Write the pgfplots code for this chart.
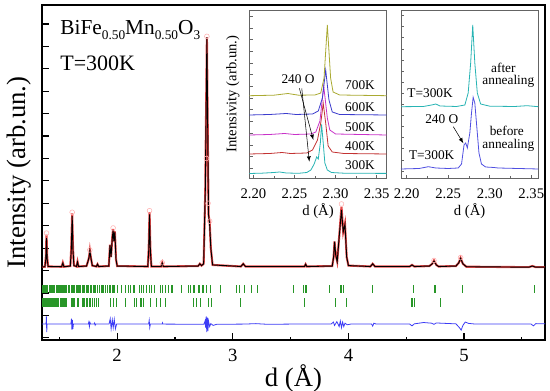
\documentclass[border=0pt]{standalone}
\usepackage{fontspec}
\setmainfont{Liberation Serif}
\usepackage{pgfplots}
\pgfplotsset{compat=1.18}
\definecolor{obsred}{RGB}{225,40,40}
\definecolor{obspink}{RGB}{255,175,175}
\definecolor{tickgreen}{RGB}{40,150,40}
\definecolor{diffblue}{RGB}{60,60,245}
\definecolor{cteal}{RGB}{40,180,180}
\definecolor{cred}{RGB}{195,50,50}
\definecolor{cmag}{RGB}{200,50,200}
\definecolor{cblue}{RGB}{60,60,205}
\definecolor{colive}{RGB}{170,170,50}
\definecolor{cbefore}{RGB}{80,80,225}
\definecolor{frame}{RGB}{100,100,100}
\begin{document}
\begin{tikzpicture}
\begin{axis}[name=main, at={(31.5pt,38.25pt)}, anchor=south west,
  scale only axis, width=377.25pt, height=251.25pt,
  xmin=1.35, xmax=5.70, ymin=-0.1, ymax=14.85,
  xtick={2,3,4,5}, xticklabels={2,3,4,5}, minor xtick={1.5,2.5,3.5,4.5,5.5},
  ytick={0,...,14}, yticklabels={},
  tick align=inside, xtick pos=bottom, ytick pos=left,
  major tick length=5pt, minor tick length=2.5pt,
  axis line style={line width=1.1pt},
  every tick/.style={black, line width=0.9pt},
  tick label style={font=\fontsize{14}{14}\selectfont},
  xticklabel style={yshift=-3.5pt},
  xlabel={d (Å)}, ylabel={Intensity (arb.un.)},
  label style={font=\fontsize{20}{20}\selectfont},
  xlabel style={yshift=4.5pt},
  ylabel style={yshift=-2pt},
  clip=false]
% observed (red)
\addplot[obsred, line width=1.6pt, opacity=0.85] coordinates {
(1.35,3.16)(1.375,3.17)(1.383,3.6)(1.389,4.6)(1.395,3.6)(1.403,3.18)
(1.52,3.17)(1.53,3.35)(1.54,3.17)
(1.595,3.2)(1.603,4.0)(1.611,5.55)(1.618,4.0)(1.626,3.22)
(1.648,3.18)(1.657,3.4)(1.666,3.18)
(1.735,3.2)(1.75,3.45)(1.757,3.6)(1.764,3.9)(1.772,3.6)(1.785,3.22)
(1.82,3.18)(1.83,3.28)(1.84,3.18)
(1.928,3.2)(1.938,4.15)(1.947,3.6)(1.958,4.5)(1.965,4.85)(1.972,4.3)(1.98,4.75)(1.99,3.5)(2.0,3.2)
(2.265,3.18)(2.273,4.0)(2.28,5.6)(2.287,4.0)(2.296,3.18)
(2.38,3.18)(2.39,3.35)(2.40,3.18)
(2.70,3.2)(2.715,3.3)(2.73,3.22)
(2.748,3.3)(2.762,6.5)(2.776,13.4)(2.79,5.5)(2.80,5.15)(2.81,4.0)(2.825,3.25)
(3.07,3.18)(3.09,3.3)(3.11,3.18)
(3.62,3.18)(3.63,3.28)(3.64,3.18)
(3.86,3.2)(3.872,3.6)(3.88,4.3)(3.89,3.7)(3.903,3.4)(3.92,4.5)(3.94,5.85)(3.955,4.73)(3.97,5.1)(3.985,3.6)(4.0,3.22)
(4.19,3.18)(4.21,3.3)(4.23,3.18)
(4.53,3.18)(4.55,3.25)(4.57,3.18)
(4.70,3.2)(4.725,3.3)(4.74,3.45)(4.76,3.25)(4.78,3.18)
(4.93,3.2)(4.955,3.35)(4.97,3.56)(4.99,3.3)(5.02,3.17)
(5.56,3.15)(5.59,3.2)(5.62,3.15)(5.70,3.15)};
\addplot[only marks, mark=o, mark size=1.8pt, obspink] coordinates {
(1.389,4.67)(1.611,5.6)(1.764,3.92)(1.965,4.9)(2.28,5.67)(2.39,3.35)(2.776,13.45)(2.772,8.0)(2.786,6.0)(2.80,5.2)(3.94,5.97)(4.74,3.45)(4.97,3.58)};
% calculated (black)
\addplot[black, line width=0.7pt] coordinates {
(1.35,3.16)(1.375,3.17)(1.383,3.5)(1.389,4.45)(1.395,3.5)(1.403,3.18)
(1.52,3.17)(1.53,3.33)(1.54,3.17)
(1.595,3.2)(1.603,3.9)(1.611,5.43)(1.618,3.9)(1.626,3.22)
(1.648,3.18)(1.657,3.38)(1.666,3.18)
(1.735,3.2)(1.75,3.45)(1.757,3.6)(1.764,3.88)(1.772,3.6)(1.785,3.22)
(1.82,3.18)(1.83,3.28)(1.84,3.18)
(1.928,3.2)(1.938,4.13)(1.947,3.6)(1.958,4.45)(1.965,4.8)(1.972,4.3)(1.98,4.72)(1.99,3.5)(2.0,3.2)
(2.265,3.18)(2.273,3.9)(2.28,5.5)(2.287,3.9)(2.296,3.18)
(2.38,3.18)(2.39,3.33)(2.40,3.18)
(2.70,3.2)(2.715,3.3)(2.73,3.22)
(2.748,3.3)(2.762,6.5)(2.776,13.4)(2.79,5.5)(2.80,5.05)(2.81,4.0)(2.825,3.25)
(3.07,3.18)(3.09,3.3)(3.11,3.18)
(3.62,3.18)(3.63,3.28)(3.64,3.18)
(3.86,3.2)(3.872,3.6)(3.88,4.29)(3.89,3.7)(3.903,3.4)(3.92,4.5)(3.94,5.7)(3.955,4.73)(3.97,5.06)(3.985,3.6)(4.0,3.22)
(4.19,3.18)(4.21,3.3)(4.23,3.18)
(4.53,3.18)(4.55,3.25)(4.57,3.18)
(4.70,3.2)(4.725,3.3)(4.74,3.42)(4.76,3.25)(4.78,3.18)
(4.93,3.2)(4.955,3.35)(4.97,3.54)(4.99,3.3)(5.02,3.17)
(5.56,3.15)(5.59,3.2)(5.62,3.15)(5.70,3.15)};
% Bragg positions, phase 1
\addplot[only marks, mark=|, mark size=3.1pt, tickgreen, line width=0.55pt] coordinates {
(1.355,2.165)(1.362,2.165)(1.37,2.165)(1.378,2.165)(1.385,2.165)(1.392,2.165)(1.40,2.165)(1.41,2.165)(1.42,2.165)(1.428,2.165)(1.436,2.165)(1.445,2.165)(1.452,2.165)(1.46,2.165)(1.47,2.165)(1.478,2.165)(1.487,2.165)(1.495,2.165)(1.503,2.165)(1.512,2.165)(1.52,2.165)(1.53,2.165)(1.538,2.165)(1.547,2.165)(1.555,2.165)(1.565,2.165)(1.575,2.165)(1.59,2.165)(1.60,2.165)(1.61,2.165)(1.62,2.165)(1.63,2.165)(1.645,2.165)(1.655,2.165)(1.665,2.165)(1.675,2.165)(1.685,2.165)(1.70,2.165)(1.712,2.165)(1.72,2.165)(1.735,2.165)(1.745,2.165)(1.755,2.165)(1.765,2.165)(1.78,2.165)(1.79,2.165)(1.80,2.165)(1.815,2.165)(1.83,2.165)(1.845,2.165)(1.86,2.165)(1.873,2.165)(1.885,2.165)(1.9,2.165)(1.912,2.165)(1.93,2.165)(1.94,2.165)(1.955,2.165)(1.965,2.165)(1.98,2.165)
(2.0,2.165)(2.037,2.165)(2.075,2.165)(2.095,2.165)(2.11,2.165)(2.138,2.165)(2.153,2.165)(2.19,2.165)(2.21,2.165)(2.23,2.165)(2.25,2.165)(2.277,2.165)(2.3,2.165)(2.326,2.165)(2.375,2.165)(2.395,2.165)(2.418,2.165)(2.44,2.165)(2.465,2.165)(2.479,2.165)(2.557,2.165)(2.62,2.165)(2.629,2.165)(2.658,2.165)(2.672,2.165)(2.701,2.165)(2.707,2.165)(2.736,2.165)(2.744,2.165)(2.773,2.165)(2.808,2.165)(2.889,2.165)(3.03,2.165)(3.061,2.165)(3.104,2.165)(3.162,2.165)(3.215,2.165)(3.528,2.165)(3.609,2.165)(3.624,2.165)(3.638,2.165)(3.831,2.165)(3.927,2.165)(3.941,2.165)(3.955,2.165)(4.209,2.165)(4.561,2.165)(4.742,2.165)(4.754,2.165)(4.988,2.165)(5.607,2.165)};
% Bragg positions, phase 2
\addplot[only marks, mark=|, mark size=3.1pt, tickgreen, line width=0.55pt] coordinates {
(1.355,1.57)(1.365,1.57)(1.372,1.57)(1.38,1.57)(1.39,1.57)(1.397,1.57)(1.405,1.57)(1.415,1.57)(1.425,1.57)(1.432,1.57)(1.44,1.57)(1.45,1.57)(1.46,1.57)(1.468,1.57)(1.477,1.57)(1.487,1.57)(1.495,1.57)(1.505,1.57)(1.515,1.57)(1.525,1.57)(1.535,1.57)(1.545,1.57)(1.555,1.57)(1.565,1.57)(1.60,1.57)(1.61,1.57)(1.62,1.57)(1.632,1.57)(1.655,1.57)(1.665,1.57)(1.70,1.57)(1.712,1.57)(1.72,1.57)(1.735,1.57)(1.745,1.57)(1.76,1.57)(1.772,1.57)(1.785,1.57)(1.80,1.57)(1.82,1.57)(1.836,1.57)
(1.937,1.57)(1.966,1.57)(1.995,1.57)(2.067,1.57)(2.075,1.57)(2.153,1.57)(2.168,1.57)(2.197,1.57)(2.211,1.57)(2.225,1.57)(2.283,1.57)(2.341,1.57)(2.37,1.57)(2.413,1.57)(2.658,1.57)(2.687,1.57)(2.716,1.57)(2.788,1.57)(2.817,1.57)(3.062,1.57)(3.618,1.57)(3.883,1.57)(3.984,1.57)(4.547,1.57)(4.555,1.57)(4.567,1.57)(4.792,1.57)};
% difference (blue)
\addplot[diffblue, line width=0.6pt] coordinates {
(1.35,0.61)(1.385,0.61)(1.388,0.95)(1.391,0.25)(1.394,0.61)
(1.60,0.61)(1.605,0.85)(1.609,0.35)(1.613,0.8)(1.617,0.4)(1.622,0.61)
(1.75,0.61)(1.755,0.7)(1.76,0.5)(1.765,0.68)(1.77,0.61)
(1.80,0.61)(1.805,0.66)(1.81,0.56)(1.815,0.61)
(1.93,0.61)(1.94,0.85)(1.948,0.4)(1.958,0.8)(1.966,0.45)(1.975,0.82)(1.985,0.4)(1.995,0.61)
(2.272,0.61)(2.277,0.78)(2.282,0.46)(2.287,0.61)
(2.39,0.61)(2.392,0.66)(2.395,0.61)
(2.75,0.6)(2.76,0.75)(2.765,0.45)(2.77,0.95)(2.775,0.25)(2.78,0.9)(2.785,0.3)(2.79,0.75)(2.8,0.5)(2.81,0.63)(2.83,0.55)(2.86,0.6)
(3.1,0.61)(3.2,0.63)(3.3,0.6)(3.5,0.61)
(3.85,0.61)(3.87,0.7)(3.88,0.55)(3.9,0.72)(3.92,0.5)(3.93,0.75)(3.94,0.45)(3.95,0.7)(3.96,0.5)(3.97,0.65)(3.99,0.58)(4.02,0.61)
(4.2,0.61)(4.21,0.52)(4.22,0.65)(4.24,0.61)
(4.53,0.61)(4.55,0.53)(4.57,0.62)(4.65,0.68)(4.72,0.65)(4.74,0.6)(4.76,0.66)
(4.93,0.62)(4.96,0.45)(4.975,0.34)(4.99,0.55)(5.01,0.7)(5.04,0.64)(5.1,0.61)
(5.58,0.61)(5.6,0.53)(5.62,0.63)(5.70,0.62)};
\node[anchor=base west, font=\fontsize{16}{16}\selectfont, inner sep=0pt] at (rel axis cs:0.036,0.913)
  {BiFe\raisebox{-0.5ex}{\fontsize{10}{10}\selectfont 0.50}Mn\raisebox{-0.5ex}{\fontsize{10}{10}\selectfont 0.50}O\raisebox{-0.5ex}{\fontsize{10}{10}\selectfont 3}};
\node[anchor=base west, font=\fontsize{16.5}{16.5}\selectfont, inner sep=0pt] at (rel axis cs:0.036,0.804) {T=300K};
\end{axis}
% inset 1
\begin{axis}[at={(187pt,159.75pt)}, anchor=south west,
  scale only axis, width=103pt, height=126pt,
  xmin=2.1951, xmax=2.3622, ymin=0, ymax=168,
  axis background/.style={fill=white},
  xtick={2.20,2.25,2.30,2.35}, xticklabels={2.20,2.25,2.30,2.35}, minor x tick num=1,
  ytick={9.7,21.4,...,168}, yticklabels={},
  tick align=inside, xtick pos=bottom, ytick pos=left,
  major tick length=2.5pt, minor tick length=1.5pt,
  axis line style={frame, line width=0.7pt},
  every tick/.style={frame, line width=0.5pt},
  tick label style={font=\fontsize{11}{11}\selectfont},
  xticklabel style={yshift=-4.5pt},
  xlabel={d (Å)}, ylabel={Intensivity (arb.un.)},
  label style={font=\fontsize{11}{11}\selectfont},
  xlabel style={yshift=3pt}, ylabel style={yshift=-3pt},
  clip=false]
\addplot[cteal, line width=0.6pt] coordinates {(2.1951,4.5)(2.21,4.8)(2.225,5.5)(2.232,6)(2.24,5)(2.255,4.7)(2.265,5.5)(2.27,8)(2.274,14)(2.277,21)(2.279,19)(2.2815,35)(2.283,53.7)(2.285,35)(2.287,15)(2.29,8)(2.295,5.5)(2.31,4.8)(2.33,4.7)(2.3622,4.6)};
\addplot[cred, line width=0.6pt] coordinates {(2.1951,24)(2.22,24.5)(2.235,25.5)(2.245,24.5)(2.265,25)(2.272,28)(2.278,38)(2.282,55)(2.285,74.7)(2.288,55)(2.291,32)(2.296,26)(2.31,24.5)(2.3622,24)};
\addplot[cmag, line width=0.6pt] coordinates {(2.1951,43)(2.22,43.5)(2.238,44.5)(2.25,43.5)(2.27,44)(2.276,46)(2.281,57)(2.2856,92)(2.29,60)(2.293,48)(2.3,44)(2.3622,43)};
\addplot[cblue, line width=0.6pt] coordinates {(2.1951,63)(2.22,63.5)(2.24,64.5)(2.252,63.5)(2.272,64)(2.279,67)(2.284,80)(2.288,108)(2.292,78)(2.296,66)(2.305,63.5)(2.3622,63)};
\addplot[colive, line width=0.6pt] coordinates {(2.1951,82.3)(2.225,82.8)(2.242,84.5)(2.255,82.8)(2.275,83)(2.282,85)(2.286,100)(2.29,153)(2.294,100)(2.297,86)(2.305,83)(2.3622,82.3)};
\begin{scope}[font=\fontsize{10}{10}\selectfont]
\node at (axis cs:2.3298,93) {700K};
\node at (axis cs:2.3298,71) {600K};
\node at (axis cs:2.3298,51) {500K};
\node at (axis cs:2.3298,32) {400K};
\node at (axis cs:2.3298,13) {300K};
\node at (axis cs:2.2543,99) {240 O};
\end{scope}
\draw[-latex, line width=0.4pt] (axis cs:2.2560,89.7) -- (axis cs:2.273,38);
\draw[-latex, line width=0.4pt] (axis cs:2.2589,89.7) -- (axis cs:2.2681,16.3);
\end{axis}
% inset 2
\begin{axis}[at={(300.75pt,159.75pt)}, anchor=south west,
  scale only axis, width=103pt, height=126pt,
  xmin=2.1931, xmax=2.3585, ymin=0, ymax=168,
  axis background/.style={fill=white},
  xtick={2.20,2.25,2.30,2.35}, xticklabels={2.20,2.25,2.30,2.35}, minor x tick num=1,
  ytick={7,18.1,...,168}, yticklabels={},
  tick align=inside, xtick pos=bottom, ytick pos=left,
  major tick length=2.5pt, minor tick length=1.5pt,
  axis line style={frame, line width=0.7pt},
  every tick/.style={frame, line width=0.5pt},
  tick label style={font=\fontsize{11}{11}\selectfont},
  xticklabel style={yshift=-4.5pt},
  xlabel={d (Å)},
  label style={font=\fontsize{11}{11}\selectfont},
  xlabel style={yshift=3pt},
  clip=false]
\addplot[cteal, line width=0.6pt] coordinates {(2.1931,71.3)(2.22,71.5)(2.23,73)(2.235,74)(2.24,72)(2.26,71.5)(2.27,73)(2.274,85)(2.277,115)(2.2795,153)(2.282,115)(2.285,85)(2.289,74)(2.3,71.8)(2.33,71.5)(2.345,72.3)(2.3585,71.3)};
\addplot[cbefore, line width=0.6pt] coordinates {(2.1931,9)(2.215,9.5)(2.226,11.3)(2.235,10)(2.25,9.5)(2.262,10)(2.266,14)(2.269,33)(2.271,35)(2.273,30)(2.276,45)(2.278,65)(2.280,80.7)(2.282,75)(2.284,55)(2.287,25)(2.29,14)(2.295,11)(2.305,10.5)(2.31,10)(2.3585,9)};
\begin{scope}[font=\fontsize{10}{10}\selectfont]
\node at (axis cs:2.3164,109.7) {after};
\node at (axis cs:2.3224,96.3) {annealing};
\node at (axis cs:2.2281,84.7) {T=300K};
\node at (axis cs:2.2422,58.7) {240 O};
\node at (axis cs:2.3205,47) {before};
\node at (axis cs:2.3224,33) {annealing};
\node at (axis cs:2.2301,23) {T=300K};
\end{scope}
\draw[-latex, line width=0.4pt] (axis cs:2.2561,51.3) -- (axis cs:2.2682,34.7);
\end{axis}
\pgfresetboundingbox
\path (0,0) rectangle (412.5pt,293.25pt);
\end{tikzpicture}
\end{document}
